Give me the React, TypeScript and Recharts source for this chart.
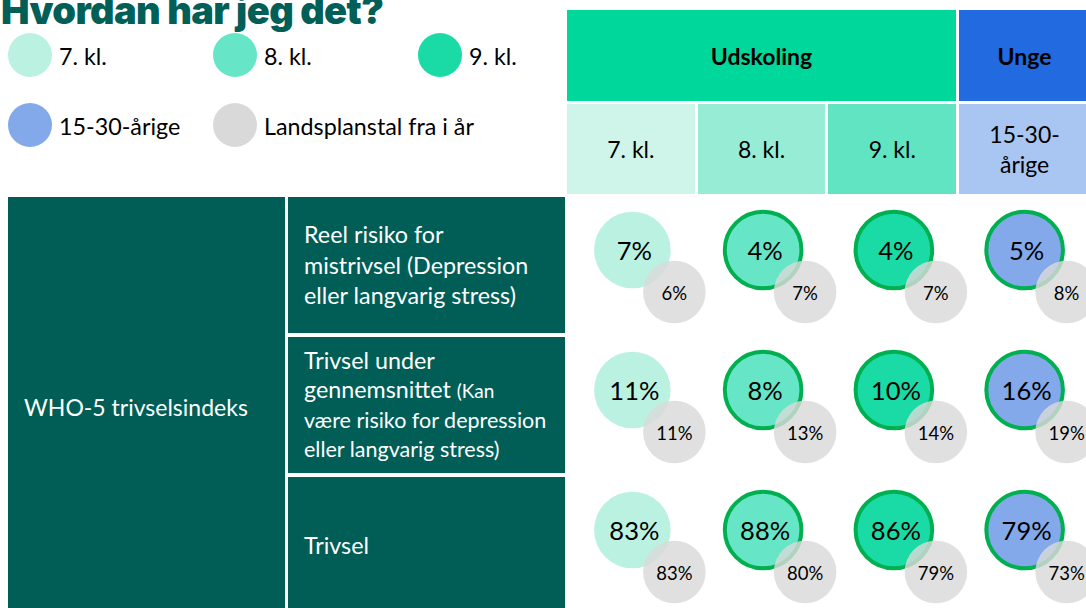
import React from "react";
import { ScatterChart, Scatter, XAxis, YAxis } from "recharts";

// kolonner og rækker
const groups = ["7. kl.", "8. kl.", "9. kl.", "15-30-årige"];
const groupHeaderLines = [["7. kl."], ["8. kl."], ["9. kl."], ["15-30-", "årige"]];
const rowKeys = ["risiko", "under", "trivsel"];

// egne tal
const lokalRisiko = [7, 4, 4, 5];
const lokalUnder = [11, 8, 10, 16];
const lokalTrivsel = [83, 88, 86, 79];

// landsplanstal fra i år
const landRisiko = [6, 7, 7, 8];
const landUnder = [11, 13, 14, 19];
const landTrivsel = [83, 80, 79, 73];

const legendLabels = ["7. kl.", "8. kl.", "9. kl.", "15-30-årige", "Landsplanstal fra i år"];

const lokalRows = [lokalRisiko, lokalUnder, lokalTrivsel];
const landRows = [landRisiko, landUnder, landTrivsel];

const lokalData = rowKeys.flatMap((row, r) =>
  groups.map((group, i) => ({ group, row, value: lokalRows[r][i] }))
);
const landData = rowKeys.flatMap((row, r) =>
  groups.map((group, i) => ({ group, row, value: landRows[r][i] }))
);

const TEAL = "#005e57";
const bubbleFill = ["#bbf1e1", "#66e6c6", "#1adba6", "#83a9eb"];
const headerFill = ["#cff5ea", "#97ecd6", "#61e4c2", "#a9c5f1"];
const legendFill = [...bubbleFill, "#d9d9d9"];
const FONT = "Lato, 'Noto Sans', sans-serif";

const LokalDot = (props: any) => {
  const { cx, cy, payload } = props;
  const i = groups.indexOf(payload.group);
  const y = cy - 21;
  return (
    <g>
      <circle
        cx={cx}
        cy={y}
        r={38.3}
        fill={bubbleFill[i]}
        stroke={i === 0 ? "none" : "#00b050"}
        strokeWidth={4}
      />
      <text x={cx + 2} y={y} textAnchor="middle" dominantBaseline="central" fontSize={25.5} fontFamily={FONT} fill="#000">
        {payload.value}%
      </text>
    </g>
  );
};

const LandDot = (props: any) => {
  const { cx, cy, payload } = props;
  const x = cx + 42;
  const y = cy + 21;
  return (
    <g>
      <circle cx={x} cy={y} r={31.3} fill="#d9d9d9" fillOpacity={0.82} />
      <text x={x} y={y + 1} textAnchor="middle" dominantBaseline="central" fontSize={18.5} fontFamily={FONT} fill="#000">
        {payload.value}%
      </text>
    </g>
  );
};

const cell = (extra: React.CSSProperties): React.CSSProperties => ({
  position: "absolute",
  boxSizing: "border-box",
  display: "flex",
  ...extra,
});

export default function App() {
  return (
    <div
      style={{
        position: "fixed",
        left: 0,
        top: 0,
        width: 1086,
        height: 608,
        overflow: "hidden",
        background: "#fff",
        fontFamily: FONT,
      }}
    >
      {/* titel og forklaring */}
      <svg width={1086} height={190} style={{ position: "absolute", left: 0, top: 0 }}>
        <text x={1} y={24} fontFamily="Inter, sans-serif" fontWeight={900} fontSize={38} letterSpacing={-0.6} fill="#015f57">
          Hvordan har jeg det?
        </text>
        {legendLabels.map((label, i) => {
          const cx = 30 + (i % 3) * 205;
          const cy = 55 + Math.floor(i / 3) * 70;
          return (
            <g key={label}>
              <circle cx={cx} cy={cy} r={22} fill={legendFill[i]} />
              <text x={cx + 29} y={cy + 10} fontSize={23.3} fontFamily={FONT} fill="#000">
                {label}
              </text>
            </g>
          );
        })}
      </svg>

      {/* kolonneoverskrifter */}
      <div style={cell({ left: 567, top: 10, width: 389, height: 91, background: "#00d89b", alignItems: "center", justifyContent: "center", fontWeight: 700, fontSize: 23 })}>
        Udskoling
      </div>
      <div style={cell({ left: 959, top: 10, width: 131, height: 91, background: "#226adf", alignItems: "center", justifyContent: "center", fontWeight: 700, fontSize: 23 })}>
        Unge
      </div>
      {groupHeaderLines.map((lines, i) => (
        <div
          key={i}
          style={cell({
            left: 567 + i * 130.7,
            top: 104,
            width: i === 3 ? 131 : 127.7,
            height: 90,
            background: headerFill[i],
            flexDirection: "column",
            alignItems: "center",
            justifyContent: "center",
            fontSize: 23,
            lineHeight: "30px",
          })}
        >
          {lines.map((l) => (
            <div key={l}>{l}</div>
          ))}
        </div>
      ))}

      {/* rækkeoverskrifter */}
      <div style={cell({ left: 8, top: 197, width: 277, height: 420, background: TEAL, color: "#fff", alignItems: "center", paddingLeft: 16, fontSize: 23 })}>
        WHO-5 trivselsindeks
      </div>
      <div style={cell({ left: 288, top: 197, width: 277, height: 136, background: TEAL, color: "#fff", alignItems: "center", paddingLeft: 16, fontSize: 23.3, lineHeight: "30.5px" })}>
        <div>
          <div>Reel risiko for</div>
          <div>mistrivsel (Depression</div>
          <div>eller langvarig stress)</div>
        </div>
      </div>
      <div style={cell({ left: 288, top: 337, width: 277, height: 136, background: TEAL, color: "#fff", alignItems: "center", paddingLeft: 16, fontSize: 23.3, lineHeight: "29.5px" })}>
        <div>
          <div>Trivsel under</div>
          <div>
            gennemsnittet <span style={{ fontSize: 19 }}>(Kan</span>
          </div>
          <div style={{ fontSize: 21.5 }}>være risiko for depression</div>
          <div style={{ fontSize: 21.5 }}>eller langvarig stress)</div>
        </div>
      </div>
      <div style={cell({ left: 288, top: 477, width: 277, height: 136, background: TEAL, color: "#fff", alignItems: "center", paddingLeft: 16, fontSize: 23.3 })}>
        Trivsel
      </div>

      {/* bobler */}
      <div style={{ position: "absolute", left: 0, top: 0 }}>
        <ScatterChart width={1090} height={621} margin={{ top: 201, left: 567, right: 0, bottom: 0 }}>
          <XAxis type="category" dataKey="group" allowDuplicatedCategory={false} hide />
          <YAxis type="category" dataKey="row" allowDuplicatedCategory={false} reversed hide />
          <Scatter name="Lokal" data={lokalData} shape={LokalDot} isAnimationActive={false} />
          <Scatter name="Landsplan" data={landData} shape={LandDot} isAnimationActive={false} />
        </ScatterChart>
      </div>
    </div>
  );
}
